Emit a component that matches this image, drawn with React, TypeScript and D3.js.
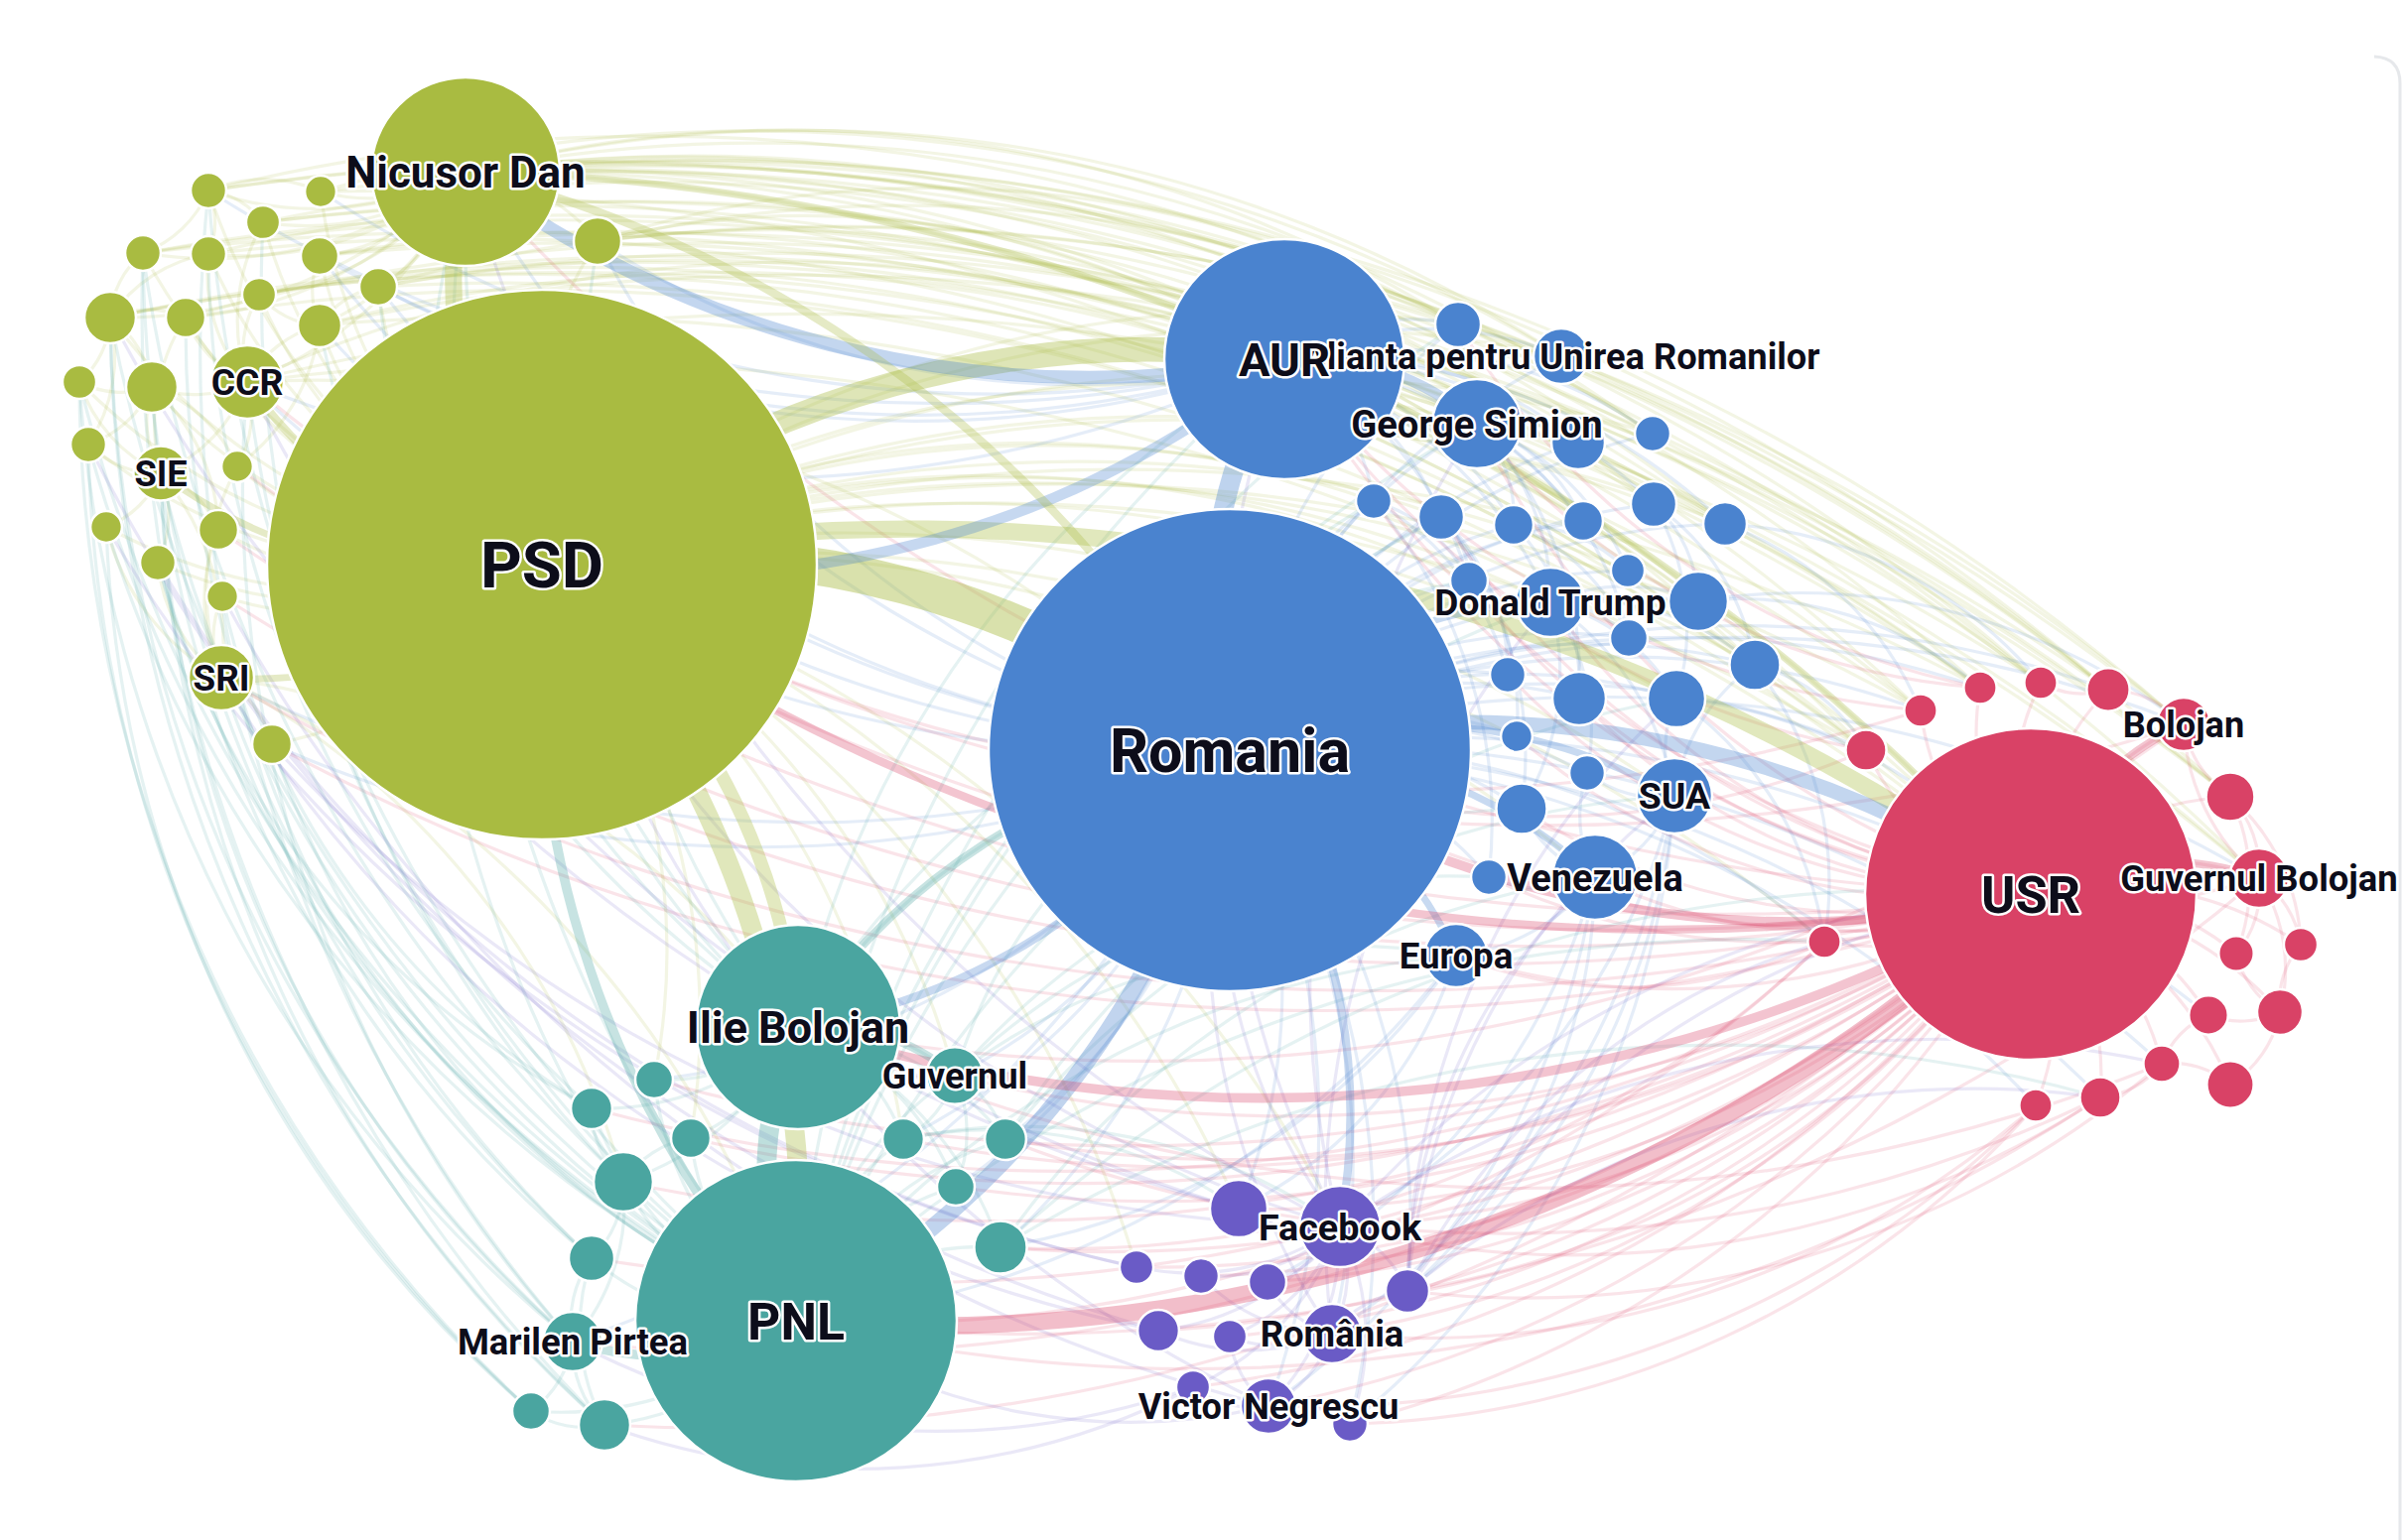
import { useEffect, useRef } from "react";
import * as d3 from "d3";

const WIDTH = 2420;
const HEIGHT = 1552;
const ARC = 1.25; // arc radius relative to the chord length

const GROUP_COLORS: Record<string, string> = {
  psd: "#a9bb41",
  romania: "#4a83cf",
  usr: "#d94266",
  pnl: "#4aa5a0",
  social: "#6a5bc6",
};

// [id, label, mentions]
const psdNodes: [string, string, number][] = [
  ["psd", "PSD", 1000], ["nicusor", "Nicusor Dan", 117.6], ["ccr", "CCR", 17.8],
  ["sie", "SIE", 9.9], ["sri", "SRI", 14.2],
  ["g1", "", 4.2], ["g2", "", 3.3], ["g3", "", 3.8], ["g4", "", 7.5], ["g5", "", 4.2],
  ["g6", "", 4.2], ["g7", "", 4.7], ["g8", "", 4.7], ["g9", "", 3.8], ["g10", "", 8.8],
  ["g11", "", 5.2], ["g12", "", 6.3], ["g13", "", 3.8], ["g14", "", 8.8], ["g15", "", 4.2],
  ["g16", "", 3.3], ["g17", "", 3.3], ["g18", "", 5.2], ["g19", "", 4.2], ["g20", "", 3.3],
  ["g21", "", 5.2],
];

const romaniaNodes: [string, string, number][] = [
  ["romania", "Romania", 769.6], ["aur", "AUR", 190.8],
  ["alianta", "Alianta pentru Unirea Romanilor", 10.2], ["simion", "George Simion", 26.4],
  ["trump", "Donald Trump", 16.0], ["sua", "SUA", 18.8], ["venezuela", "Venezuela", 24.1],
  ["europa", "Europa", 13.3],
  ["b1", "", 6.9], ["b4", "", 9.5], ["b5", "", 4.2], ["b6", "", 4.2], ["b7", "", 6.9],
  ["b8", "", 5.2], ["b9", "", 5.2], ["b10", "", 6.9], ["b11", "", 6.3], ["b12", "", 4.7],
  ["b14", "", 3.8], ["b15", "", 11.7], ["b16", "", 4.7], ["b17", "", 8.5], ["b18", "", 4.2],
  ["b19", "", 9.5], ["b20", "", 11.0], ["b21", "", 3.3], ["b22", "", 4.2], ["b24", "", 8.5],
  ["b25", "", 4.2],
];

const usrNodes: [string, string, number][] = [
  ["usr", "USR", 363.5], ["bolojan", "Bolojan", 9.5], ["guvbol", "Guvernul Bolojan", 11.7],
  ["r1", "", 3.6], ["r2", "", 3.6], ["r3", "", 6.1], ["r4", "", 3.6], ["r5", "", 5.5],
  ["r7", "", 7.8], ["r9", "", 3.6], ["r10", "", 4.1], ["r11", "", 3.8], ["r12", "", 5.1],
  ["r13", "", 6.9], ["r14", "", 4.5], ["r15", "", 7.3], ["r16", "", 5.5], ["r17", "", 3.6],
];

const pnlNodes: [string, string, number][] = [
  ["pnl", "PNL", 342.0], ["ilie", "Ilie Bolojan", 138.3], ["guvernul", "Guvernul", 10.7],
  ["marilen", "Marilen Pirtea", 11.7],
  ["t1", "", 4.7], ["t2", "", 5.7], ["t3", "", 5.2], ["t4", "", 11.7], ["t6", "", 5.7],
  ["t7", "", 5.7], ["t8", "", 4.7], ["t9", "", 9.2], ["t10", "", 6.9], ["t12", "", 4.7],
  ["t13", "", 8.8],
];

const socialNodes: [string, string, number][] = [
  ["facebook", "Facebook", 21.9], ["romania2", "România", 11.7], ["negrescu", "Victor Negrescu", 10.2],
  ["p1", "", 11.0], ["p2", "", 3.8], ["p3", "", 4.2], ["p4", "", 4.7], ["p5", "", 6.3],
  ["p6", "", 5.7], ["p7", "", 3.8], ["p8", "", 3.8], ["p9", "", 4.2],
];

// layout coordinates of the network (layout units, 0-242 x 0-155.2)
const layout: [string, number, number][] = [
  ["psd", 54.6, 56.9], ["nicusor", 46.9, 17.3], ["ccr", 24.9, 38.5], ["sie", 16.2, 47.7],
  ["sri", 22.3, 68.3], ["g1", 21.0, 19.2], ["g2", 32.3, 19.3], ["g3", 26.5, 22.4],
  ["g4", 60.2, 24.3], ["g5", 14.4, 25.5], ["g6", 21.0, 25.6], ["g7", 32.2, 25.8],
  ["g8", 38.1, 28.9], ["g9", 26.1, 29.7], ["g10", 11.1, 32.0], ["g11", 18.7, 32.0],
  ["g12", 32.2, 32.8], ["g13", 8.0, 38.5], ["g14", 15.3, 39.0], ["g15", 8.9, 44.8],
  ["g16", 23.9, 47.0], ["g17", 10.7, 53.1], ["g18", 22.0, 53.4], ["g19", 15.9, 56.7],
  ["g20", 22.4, 60.1], ["g21", 27.4, 75.0],
  ["romania", 123.9, 75.6], ["aur", 129.4, 36.2], ["alianta", 157.3, 35.9],
  ["simion", 148.8, 42.7], ["trump", 156.2, 60.7], ["sua", 168.7, 80.2],
  ["venezuela", 160.7, 88.4], ["europa", 146.7, 96.3], ["b1", 146.9, 32.7],
  ["b4", 159.0, 44.6], ["b5", 166.5, 43.7], ["b6", 138.4, 50.5], ["b7", 145.2, 52.1],
  ["b8", 152.5, 52.9], ["b9", 159.5, 52.5], ["b10", 166.6, 50.8], ["b11", 173.8, 52.8],
  ["b12", 148.0, 58.5], ["b14", 164.0, 57.5], ["b15", 171.1, 60.6], ["b16", 164.1, 64.3],
  ["b17", 176.8, 67.0], ["b18", 151.9, 68.0], ["b19", 159.1, 70.4], ["b20", 168.9, 70.4],
  ["b21", 152.8, 74.2], ["b22", 159.9, 77.9], ["b24", 153.3, 81.5], ["b25", 150.0, 88.4],
  ["usr", 204.6, 90.1], ["bolojan", 220.0, 73.0], ["guvbol", 227.6, 88.5],
  ["r1", 199.5, 69.3], ["r2", 205.6, 68.8], ["r3", 212.4, 69.5], ["r4", 193.5, 71.6],
  ["r5", 188.0, 75.6], ["r7", 224.7, 80.3], ["r9", 183.8, 94.9], ["r10", 225.3, 96.1],
  ["r11", 231.8, 95.2], ["r12", 222.5, 102.3], ["r13", 229.7, 102.0], ["r14", 217.8, 107.2],
  ["r15", 224.7, 109.3], ["r16", 211.6, 110.6], ["r17", 205.1, 111.4],
  ["pnl", 80.2, 133.1], ["ilie", 80.4, 103.5], ["guvernul", 96.2, 108.4],
  ["marilen", 57.7, 135.2], ["t1", 65.9, 108.8], ["t2", 59.6, 111.7], ["t3", 69.6, 114.7],
  ["t4", 62.8, 119.1], ["t6", 91.0, 114.8], ["t7", 101.3, 114.8], ["t8", 96.3, 119.6],
  ["t9", 100.8, 125.7], ["t10", 59.6, 126.8], ["t12", 53.5, 142.2], ["t13", 60.9, 143.6],
  ["facebook", 135.0, 123.6], ["romania2", 134.2, 134.4], ["negrescu", 127.8, 141.7],
  ["p1", 124.8, 121.8], ["p2", 114.5, 127.7], ["p3", 121.0, 128.6], ["p4", 127.7, 129.2],
  ["p5", 141.8, 130.1], ["p6", 116.7, 134.1], ["p7", 123.9, 134.7], ["p8", 120.2, 139.8],
  ["p9", 136.0, 143.5],
];

// heavy co-mention links: [source, target, weight]
const strongLinks: [string, string, number][] = [
  ["psd", "romania", 28], ["psd", "aur", 18], ["psd", "usr", 12], ["psd", "pnl", 14],
  ["psd", "ilie", 9], ["psd", "nicusor", 12], ["romania", "aur", 14], ["romania", "pnl", 12],
  ["romania", "usr", 10], ["usr", "pnl", 12], ["usr", "ilie", 6], ["usr", "romania", 6],
  ["pnl", "ilie", 14], ["aur", "nicusor", 9], ["aur", "psd", 7], ["aur", "simion", 7],
  ["romania", "trump", 4], ["romania", "sua", 4], ["romania", "venezuela", 4],
  ["romania", "europa", 4], ["romania", "facebook", 5], ["pnl", "marilen", 6],
  ["ilie", "guvernul", 5], ["usr", "bolojan", 5], ["usr", "guvbol", 5],
  ["nicusor", "romania", 5], ["nicusor", "usr", 4], ["psd", "ccr", 5], ["psd", "sri", 4],
  ["psd", "sie", 4], ["pnl", "psd", 6], ["ilie", "romania", 5], ["romania", "ilie", 5],
  ["usr", "psd", 5],
];

// single co-mentions: [source, targets]
const fanLinks: [string, string[]][] = [
  ["psd", ["g1", "g2", "g3", "g4", "g5", "g6", "g7", "g8", "g9", "g10", "g11", "g12", "g13", "g14", "g15", "g16", "g17", "g18", "g19", "g20", "g21"]],
  ["nicusor", ["g1", "g2", "g3", "g4", "g5", "g6", "g7", "g8", "g9", "g12", "ccr", "g10", "g11"]],
  ["ccr", ["g6", "g9", "g11", "g14", "sie", "g12", "g16", "g3"]],
  ["sie", ["g13", "g14", "g15", "g17", "g18", "g19", "sri", "g11"]],
  ["g10", ["g5", "g13", "g14", "g11", "g6", "g15"]],
  ["g1", ["g3", "g5", "g6", "g2"]],
  ["g14", ["g13", "g15", "g16", "g18"]],
  ["sri", ["g19", "g20", "g21", "g18", "g17", "g16"]],
  ["g12", ["g7", "g8", "g9", "g16"]],
  ["nicusor", ["r1", "r2", "r3", "r4", "r5", "bolojan", "r7", "guvbol", "b5", "b10", "b11", "b17", "alianta", "b1", "usr"]],
  ["g1", ["r3", "bolojan", "b5"]],
  ["g2", ["r2", "usr", "alianta"]],
  ["g3", ["r4", "b11", "r7"]],
  ["g4", ["bolojan", "r3", "b5", "b1", "aur"]],
  ["g5", ["r1", "r7", "guvbol"]],
  ["g6", ["r5", "b10"]],
  ["g7", ["r7", "guvbol", "b15"]],
  ["g8", ["r2", "usr", "b15", "simion"]],
  ["g9", ["r1", "b17"]],
  ["g10", ["b17", "r1", "r4"]],
  ["g11", ["b11", "r5"]],
  ["g12", ["r3", "usr", "b9"]],
  ["ccr", ["usr", "aur", "romania", "r2"]],
  ["psd", ["b1", "b5", "b10", "b11", "b15", "b17", "r1", "r4", "r5", "r9", "alianta", "simion", "trump", "sua", "b6", "b7", "b12", "b20", "venezuela"]],
  ["psd", ["t1", "t3", "t6", "guvernul", "p1", "p2", "facebook"]],
  ["sri", ["pnl", "t4", "ilie"]],
  ["romania", ["b1", "b4", "b5", "b6", "b7", "b8", "b9", "b10", "b11", "b12", "b14", "b15", "b16", "b17", "b18", "b19", "b20", "b21", "b22", "b24", "b25", "alianta", "simion"]],
  ["aur", ["b1", "alianta", "b4", "b5", "b6", "b7", "b8", "b9", "b10", "b11", "b12", "trump"]],
  ["simion", ["b4", "b9", "b14", "b16", "b19", "trump", "b8"]],
  ["trump", ["b15", "b17", "b20", "sua", "b22", "b24", "b16"]],
  ["b7", ["b12", "b18", "b21", "b24"]],
  ["b8", ["b14", "b16", "b19"]],
  ["b10", ["b15", "b20", "b17"]],
  ["b6", ["b12", "b18", "b25"]],
  ["sua", ["b20", "b22", "venezuela", "b17"]],
  ["venezuela", ["b24", "b25", "europa", "b22"]],
  ["romania", ["r1", "r4", "r5", "r9", "r16", "r17", "r14", "bolojan", "guvbol", "r12", "r3"]],
  ["romania", ["nicusor", "g4", "g8", "g12", "ccr", "sri", "g21", "g7"]],
  ["aur", ["g4", "g2", "g7", "g8", "ccr", "g1"]],
  ["romania", ["t6", "t7", "t8", "t9", "guvernul", "marilen", "p1", "p5", "romania2", "negrescu", "p9", "t1"]],
  ["sua", ["p5", "p9", "romania2", "facebook"]],
  ["venezuela", ["negrescu", "p5", "p4"]],
  ["europa", ["t9", "p1", "pnl"]],
  ["b17", ["r5", "r9"]],
  ["b15", ["bolojan", "r1"]],
  ["b11", ["r4", "r2"]],
  ["b20", ["r9", "usr"]],
  ["usr", ["r1", "r2", "r3", "r4", "r5", "r7", "r9", "r10", "r11", "r12", "r13", "r14", "r15", "r16", "r17", "bolojan", "guvbol"]],
  ["r7", ["bolojan", "guvbol", "r10", "r11"]],
  ["r13", ["r11", "r12", "r15", "r10"]],
  ["r14", ["r15", "r16", "r12"]],
  ["guvbol", ["r11", "r13", "bolojan", "r10"]],
  ["r3", ["bolojan", "r2"]],
  ["usr", ["b6", "b7", "b12", "b18", "b21", "b24", "b25", "europa", "venezuela", "simion", "aur", "trump", "b19"]],
  ["usr", ["t1", "t2", "t3", "t4", "t6", "t7", "t8", "t9", "t10", "t13", "marilen", "guvernul", "facebook", "p1", "p2", "p3", "p4", "p5", "p6", "p7", "p8", "p9", "romania2", "negrescu"]],
  ["usr", ["g21", "sri", "g20", "g18", "ccr", "nicusor", "g16"]],
  ["r9", ["pnl", "t9", "europa"]],
  ["r16", ["pnl", "facebook", "t7"]],
  ["r17", ["negrescu", "p9", "romania2"]],
  ["r5", ["romania", "aur"]],
  ["r1", ["simion", "b1"]],
  ["r4", ["aur", "psd"]],
  ["r14", ["p5", "ilie"]],
  ["guvbol", ["romania", "pnl"]],
  ["bolojan", ["ilie", "psd"]],
  ["pnl", ["t1", "t2", "t3", "t4", "t6", "t7", "t8", "t9", "t10", "t12", "t13", "guvernul"]],
  ["ilie", ["t1", "t2", "t3", "t6", "t7", "t8", "guvernul", "t9", "t4"]],
  ["t4", ["t2", "t10", "marilen", "t3"]],
  ["t13", ["t12", "marilen", "t10"]],
  ["marilen", ["t10", "t12"]],
  ["guvernul", ["t6", "t7", "t8"]],
  ["pnl", ["g5", "g10", "g13", "g15", "g17", "sie", "sri", "g19", "g21", "nicusor", "g1", "ccr"]],
  ["marilen", ["g13", "g10", "g1", "ccr", "sie"]],
  ["t12", ["g15", "g17", "g13"]],
  ["t10", ["g14", "g11", "g5"]],
  ["t2", ["g19", "g20", "g6"]],
  ["t13", ["g10", "sie", "g5"]],
  ["t4", ["nicusor", "g3"]],
  ["ilie", ["psd", "nicusor", "g4", "g8", "g12"]],
  ["pnl", ["aur", "simion", "trump", "b6", "b7", "r9", "europa", "b1"]],
  ["guvernul", ["romania", "europa", "b24", "b25"]],
  ["t9", ["venezuela", "usr", "r16"]],
  ["t7", ["sua", "b20"]],
  ["ilie", ["aur", "b12", "romania"]],
  ["t6", ["facebook", "p1"]],
  ["facebook", ["p1", "p2", "p3", "p4", "p5", "p6", "p7", "p8", "p9", "romania2", "negrescu"]],
  ["romania2", ["p3", "p4", "p6", "p7", "negrescu", "p5"]],
  ["negrescu", ["p8", "p9", "p7"]],
  ["facebook", ["psd", "nicusor", "g21"]],
  ["p2", ["g17", "g19"]],
  ["p6", ["sri", "g15"]],
  ["negrescu", ["psd", "g20", "pnl"]],
  ["p1", ["ccr", "g10"]],
  ["facebook", ["romania", "aur", "simion"]],
  ["p5", ["sua", "venezuela", "b20"]],
  ["romania2", ["romania", "trump"]],
  ["p5", ["usr", "r9", "r16"]],
  ["facebook", ["usr", "r14"]],
  ["p8", ["marilen", "t13"]],
];

interface GNode { id: string; label: string; group: string; mentions: number; x: number; y: number; }

export default function App() {
  const svgRef = useRef<SVGSVGElement>(null);

  useEffect(() => {
    if (!svgRef.current) return;
    const svg = d3.select(svgRef.current);
    svg.selectAll("*").remove();

    const x = d3.scaleLinear().domain([0, 242]).range([0, WIDTH]);
    const y = d3.scaleLinear().domain([0, 155.2]).range([0, HEIGHT]);
    const r = d3.scaleSqrt().domain([0, 1000]).range([0, 277]);
    const fontSize = d3.scaleLinear().domain([0, 277]).range([33, 65]);
    const linkWidth = d3.scaleLinear().domain([1, 30]).range([3.2, 40]);
    const linkOpacity = d3.scaleLinear().domain([1, 4, 30]).range([0.14, 0.3, 0.45]).clamp(true);

    const pos = new Map(layout.map(([id, lx, ly]) => [id, [lx, ly]]));
    const groups: [string, [string, string, number][]][] = [
      ["psd", psdNodes], ["romania", romaniaNodes], ["usr", usrNodes],
      ["pnl", pnlNodes], ["social", socialNodes],
    ];
    const nodes: GNode[] = groups.flatMap(([group, list]) =>
      list.map(([id, label, mentions]) => {
        const [lx, ly] = pos.get(id)!;
        return { id, label, group, mentions, x: x(lx), y: y(ly) };
      })
    );
    const byId = new Map(nodes.map((n) => [n.id, n]));

    const links = [
      ...fanLinks.flatMap(([s, ts]) => ts.map((t) => ({ s, t, w: 1 }))),
      ...strongLinks.map(([s, t, w]) => ({ s, t, w })),
    ].filter((l) => byId.has(l.s) && byId.has(l.t) && l.s !== l.t);

    const linkArc = (l: { s: string; t: string }) => {
      const a = byId.get(l.s)!;
      const b = byId.get(l.t)!;
      const dr = Math.hypot(b.x - a.x, b.y - a.y) * ARC;
      return `M${a.x},${a.y}A${dr},${dr} 0 0,1 ${b.x},${b.y}`;
    };

    // card edge on the right
    svg.append("path")
      .attr("d", `M2392,57 Q2418,58 2418,84 L2418,${HEIGHT}`)
      .attr("fill", "none")
      .attr("stroke", "#e6e8eb")
      .attr("stroke-width", 3);

    svg.append("g")
      .attr("fill", "none")
      .attr("stroke-linecap", "round")
      .selectAll("path")
      .data(links)
      .join("path")
      .attr("d", linkArc)
      .attr("stroke", (d) => GROUP_COLORS[byId.get(d.s)!.group])
      .attr("stroke-width", (d) => linkWidth(d.w))
      .attr("stroke-opacity", (d) => linkOpacity(d.w));

    svg.append("g")
      .selectAll("circle")
      .data([...nodes].sort((a, b) => b.mentions - a.mentions))
      .join("circle")
      .attr("cx", (d) => d.x)
      .attr("cy", (d) => d.y)
      .attr("r", (d) => r(d.mentions))
      .attr("fill", (d) => GROUP_COLORS[d.group])
      .attr("stroke", "#ffffff")
      .attr("stroke-width", 2.5);

    svg.append("g")
      .attr("font-family", "Roboto, 'Noto Sans', sans-serif")
      .attr("font-weight", 700)
      .attr("text-anchor", "middle")
      .selectAll("text")
      .data(nodes.filter((n) => n.label).sort((a, b) => a.mentions - b.mentions))
      .join("text")
      .attr("x", (d) => d.x)
      .attr("y", (d) => d.y)
      .attr("dy", "0.36em")
      .attr("font-size", (d) => fontSize(r(d.mentions)))
      .attr("fill", "#0d0d1a")
      .attr("stroke", "#ffffff")
      .attr("stroke-width", 5)
      .attr("stroke-linejoin", "round")
      .attr("paint-order", "stroke")
      .text((d) => d.label);
  }, []);

  return (
    <svg
      ref={svgRef}
      width={WIDTH}
      height={HEIGHT}
      style={{ position: "absolute", left: 0, top: 0, background: "#ffffff" }}
    />
  );
}
